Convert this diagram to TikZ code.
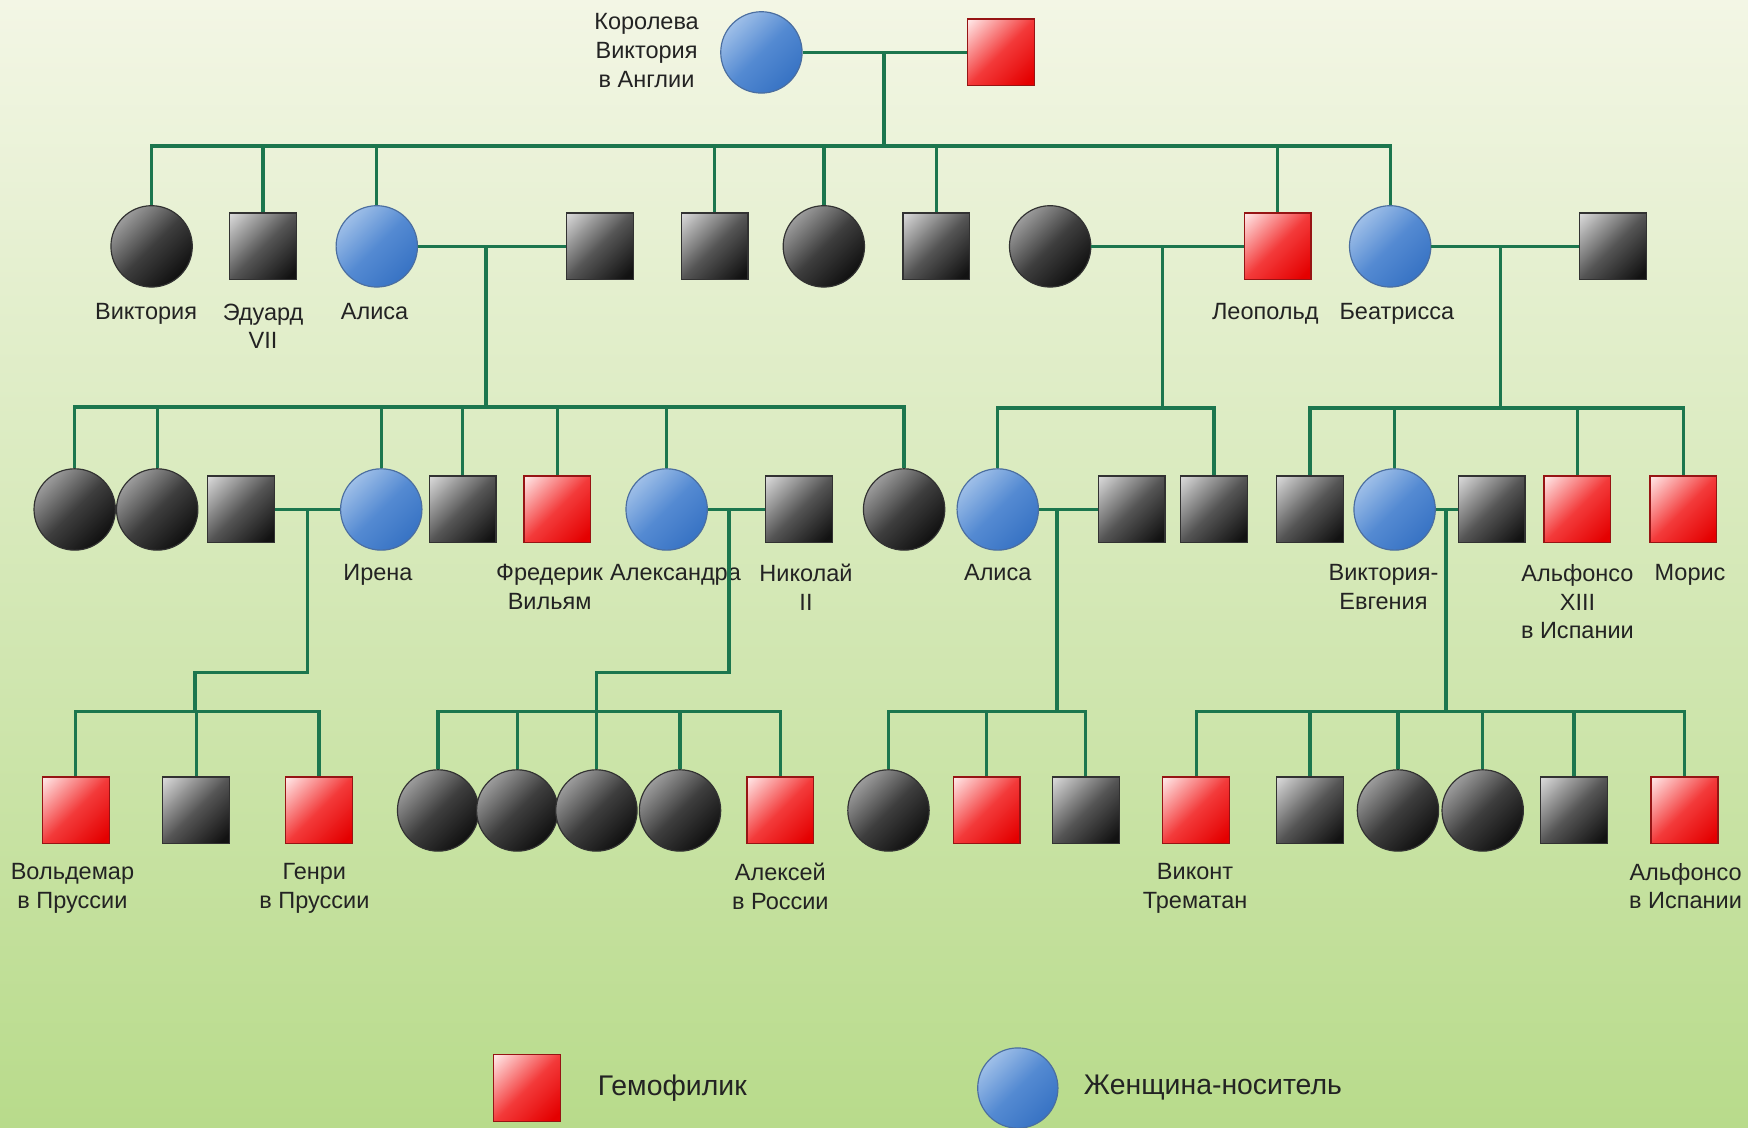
\documentclass[tikz,border=0pt]{standalone}
\usepackage{fontspec}
\setmainfont{Liberation Sans}
\definecolor{bgtop}{RGB}{243,246,229}
\definecolor{bgmid}{RGB}{214,235,186}
\definecolor{bgbot}{RGB}{184,219,139}
\definecolor{linec}{RGB}{28,118,78}
\definecolor{txt}{RGB}{35,35,35}
\definecolor{k1}{RGB}{10,10,10}
\definecolor{k2}{RGB}{62,62,62}
\definecolor{k3}{RGB}{190,190,190}
\definecolor{q1}{RGB}{18,18,18}
\definecolor{q2}{RGB}{85,85,85}
\definecolor{q3}{RGB}{215,215,215}
\definecolor{r1}{RGB}{228,0,0}
\definecolor{r2}{RGB}{243,58,58}
\definecolor{r3}{RGB}{255,228,228}
\definecolor{b1}{RGB}{52,112,194}
\definecolor{b2}{RGB}{84,138,210}
\definecolor{b3}{RGB}{185,210,240}
\definecolor{kedge}{RGB}{50,50,50}
\definecolor{bedge}{RGB}{75,110,160}
\definecolor{redge}{RGB}{150,20,20}
\pgfdeclareverticalshading{blksh}{100bp}{color(0bp)=(k1); color(22bp)=(k1); color(50bp)=(k2); color(84bp)=(k3); color(100bp)=(k3)}
\pgfdeclareverticalshading{graysh}{100bp}{color(0bp)=(q1); color(20bp)=(q1); color(50bp)=(q2); color(84bp)=(q3); color(100bp)=(q3)}
\pgfdeclareverticalshading{redsh}{100bp}{color(0bp)=(r1); color(20bp)=(r1); color(50bp)=(r2); color(84bp)=(r3); color(100bp)=(r3)}
\pgfdeclareverticalshading{bluesh}{100bp}{color(0bp)=(b1); color(22bp)=(b1); color(50bp)=(b2); color(84bp)=(b3); color(100bp)=(b3)}
\begin{document}
\begin{tikzpicture}[x=0.02cm,y=-0.02cm,
  line/.style={draw=linec, line width=1.7pt},
  fem/.style={circle, inner sep=0pt, minimum size=1.46cm, draw=kedge, line width=0.6pt, shading=blksh, shading angle=45},
  car/.style={fem, draw=bedge, shading=bluesh},
  mal/.style={rectangle, inner sep=0pt, minimum size=1.2cm, draw=kedge, line width=0.6pt, shading=graysh, shading angle=45},
  hem/.style={mal, draw=redge, shading=redsh},
  lbl/.style={font=\fontsize{12}{14.6}\selectfont, text=txt, align=center, inner sep=0pt, anchor=north},
  leg/.style={font=\fontsize{14.5}{17}\selectfont, text=txt, inner sep=0pt, anchor=west}]
\shade[top color=bgtop, middle color=bgmid, bottom color=bgbot] (0,0) rectangle (1568,1011);
\useasboundingbox (0,0) rectangle (1568,1011);

% generation 1
\node[car] (qv) at (683,47) {};
\node[hem] (qa) at (898,47) {};
\node[lbl] (lqv) at (580,12) {Королева\\Виктория\\в Англии};

% generation 2
\node[fem] (g2a) at (136,221) {};
\node[mal] (g2b) at (236,221) {};
\node[car] (g2c) at (338,221) {};
\node[mal] (g2d) at (538,221) {};
\node[mal] (g2e) at (641,221) {};
\node[fem] (g2f) at (739,221) {};
\node[mal] (g2g) at (840,221) {};
\node[fem] (g2h) at (942,221) {};
\node[hem] (g2j) at (1146,221) {};
\node[car] (g2k) at (1247,221) {};
\node[mal] (g2l) at (1447,221) {};
\node[lbl] (l2a) at (131,272) {Виктория};
\node[lbl] (l2b) at (236,272) {Эдуард\\VII};
\node[lbl] (l2c) at (336,272) {Алиса};
\node[lbl] (l2j) at (1135,272) {Леопольд};
\node[lbl] (l2k) at (1253,272) {Беатрисса};

% generation 3
\node[fem] (g3a) at (67,457) {};
\node[fem] (g3b) at (141,457) {};
\node[mal] (g3c) at (216,457) {};
\node[car] (g3d) at (342,457) {};
\node[mal] (g3e) at (415,457) {};
\node[hem] (g3f) at (500,457) {};
\node[car] (g3g) at (598,457) {};
\node[mal] (g3h) at (717,457) {};
\node[fem] (g3i) at (811,457) {};
\node[car] (g3j) at (895,457) {};
\node[mal] (g3k) at (1015,457) {};
\node[mal] (g3l) at (1089,457) {};
\node[mal] (g3m) at (1175,457) {};
\node[car] (g3n) at (1251,457) {};
\node[mal] (g3o) at (1338,457) {};
\node[hem] (g3p) at (1415,457) {};
\node[hem] (g3q) at (1510,457) {};
\node[lbl] (l3d) at (339,506) {Ирена};
\node[lbl] (l3f) at (493,506) {Фредерик\\Вильям};
\node[lbl] (l3g) at (606,506) {Александра};
\node[lbl] (l3h) at (723,506) {Николай\\II};
\node[lbl] (l3j) at (895,506) {Алиса};
\node[lbl] (l3n) at (1241,506) {Виктория-\\Евгения};
\node[lbl] (l3p) at (1415,506) {Альфонсо\\XIII\\в Испании};
\node[lbl] (l3q) at (1516,506) {Морис};

% generation 4
\node[hem] (g4a) at (68,727) {};
\node[mal] (g4b) at (176,727) {};
\node[hem] (g4c) at (286,727) {};
\node[fem] (g4d) at (393,727) {};
\node[fem] (g4e) at (464,727) {};
\node[fem] (g4f) at (535,727) {};
\node[fem] (g4g) at (610,727) {};
\node[hem] (g4h) at (700,727) {};
\node[fem] (g4i) at (797,727) {};
\node[hem] (g4j) at (885,727) {};
\node[mal] (g4k) at (974,727) {};
\node[hem] (g4l) at (1073,727) {};
\node[mal] (g4m) at (1175,727) {};
\node[fem] (g4n) at (1254,727) {};
\node[fem] (g4o) at (1330,727) {};
\node[mal] (g4p) at (1412,727) {};
\node[hem] (g4q) at (1511,727) {};
\node[lbl] (l4a) at (65,774) {Вольдемар\\в Пруссии};
\node[lbl] (l4c) at (282,774) {Генри\\в Пруссии};
\node[lbl] (l4h) at (700,774) {Алексей\\в России};
\node[lbl] (l4l) at (1072,774) {Виконт\\Трематан};
\node[lbl] (l4q) at (1512,774) {Альфонсо\\в Испании};

% legend
\node[hem] (lh) at (473,976) {};
\node[leg] (lht) at (536,976) {Гемофилик};
\node[car, minimum size=1.44cm] (lc) at (913,976) {};
\node[leg] (lct) at (972,976) {Женщина-носитель};

% junction coordinates
\coordinate (d1) at (793,47);   \coordinate (s1) at (793,131);
\coordinate (d2) at (436,221);  \coordinate (s2) at (436,365);
\coordinate (d3) at (1043,221); \coordinate (s3) at (1043,366);
\coordinate (d4) at (1346,221); \coordinate (s4) at (1346,366);
\coordinate (d5) at (276,457);  \coordinate (k5) at (175,603); \coordinate (s5) at (175,638);
\coordinate (d6) at (654,457);  \coordinate (k6) at (535,603); \coordinate (s6) at (535,638);
\coordinate (d7) at (948,457);  \coordinate (s7) at (948,638);
\coordinate (d8) at (1297,457); \coordinate (s8) at (1297,638);

% connectors
\draw[line] (qv) -- (qa);
\draw[line] (d1) -- (s1);
\foreach \n in {g2a,g2b,g2c,g2e,g2f,g2g,g2j,g2k} \draw[line] (\n.north) |- (s1);

\draw[line] (g2c) -- (g2d);
\draw[line] (d2) -- (s2);
\foreach \n in {g3a,g3b,g3d,g3e,g3f,g3g,g3i} \draw[line] (\n.north) |- (s2);

\draw[line] (g2h) -- (g2j);
\draw[line] (d3) -- (s3);
\foreach \n in {g3j,g3l} \draw[line] (\n.north) |- (s3);

\draw[line] (g2k) -- (g2l);
\draw[line] (d4) -- (s4);
\foreach \n in {g3m,g3n,g3p,g3q} \draw[line] (\n.north) |- (s4);

\draw[line] (g3c) -- (g3d);
\draw[line] (d5) |- (k5) -- (s5);
\foreach \n in {g4a,g4b,g4c} \draw[line] (\n.north) |- (s5);

\draw[line] (g3g) -- (g3h);
\draw[line] (d6) |- (k6) -- (s6);
\foreach \n in {g4d,g4e,g4f,g4g,g4h} \draw[line] (\n.north) |- (s6);

\draw[line] (g3j) -- (g3k);
\draw[line] (d7) -- (s7);
\foreach \n in {g4i,g4j,g4k} \draw[line] (\n.north) |- (s7);

\draw[line] (g3n) -- (g3o);
\draw[line] (d8) -- (s8);
\foreach \n in {g4l,g4m,g4n,g4o,g4p,g4q} \draw[line] (\n.north) |- (s8);
\end{tikzpicture}
\end{document}
